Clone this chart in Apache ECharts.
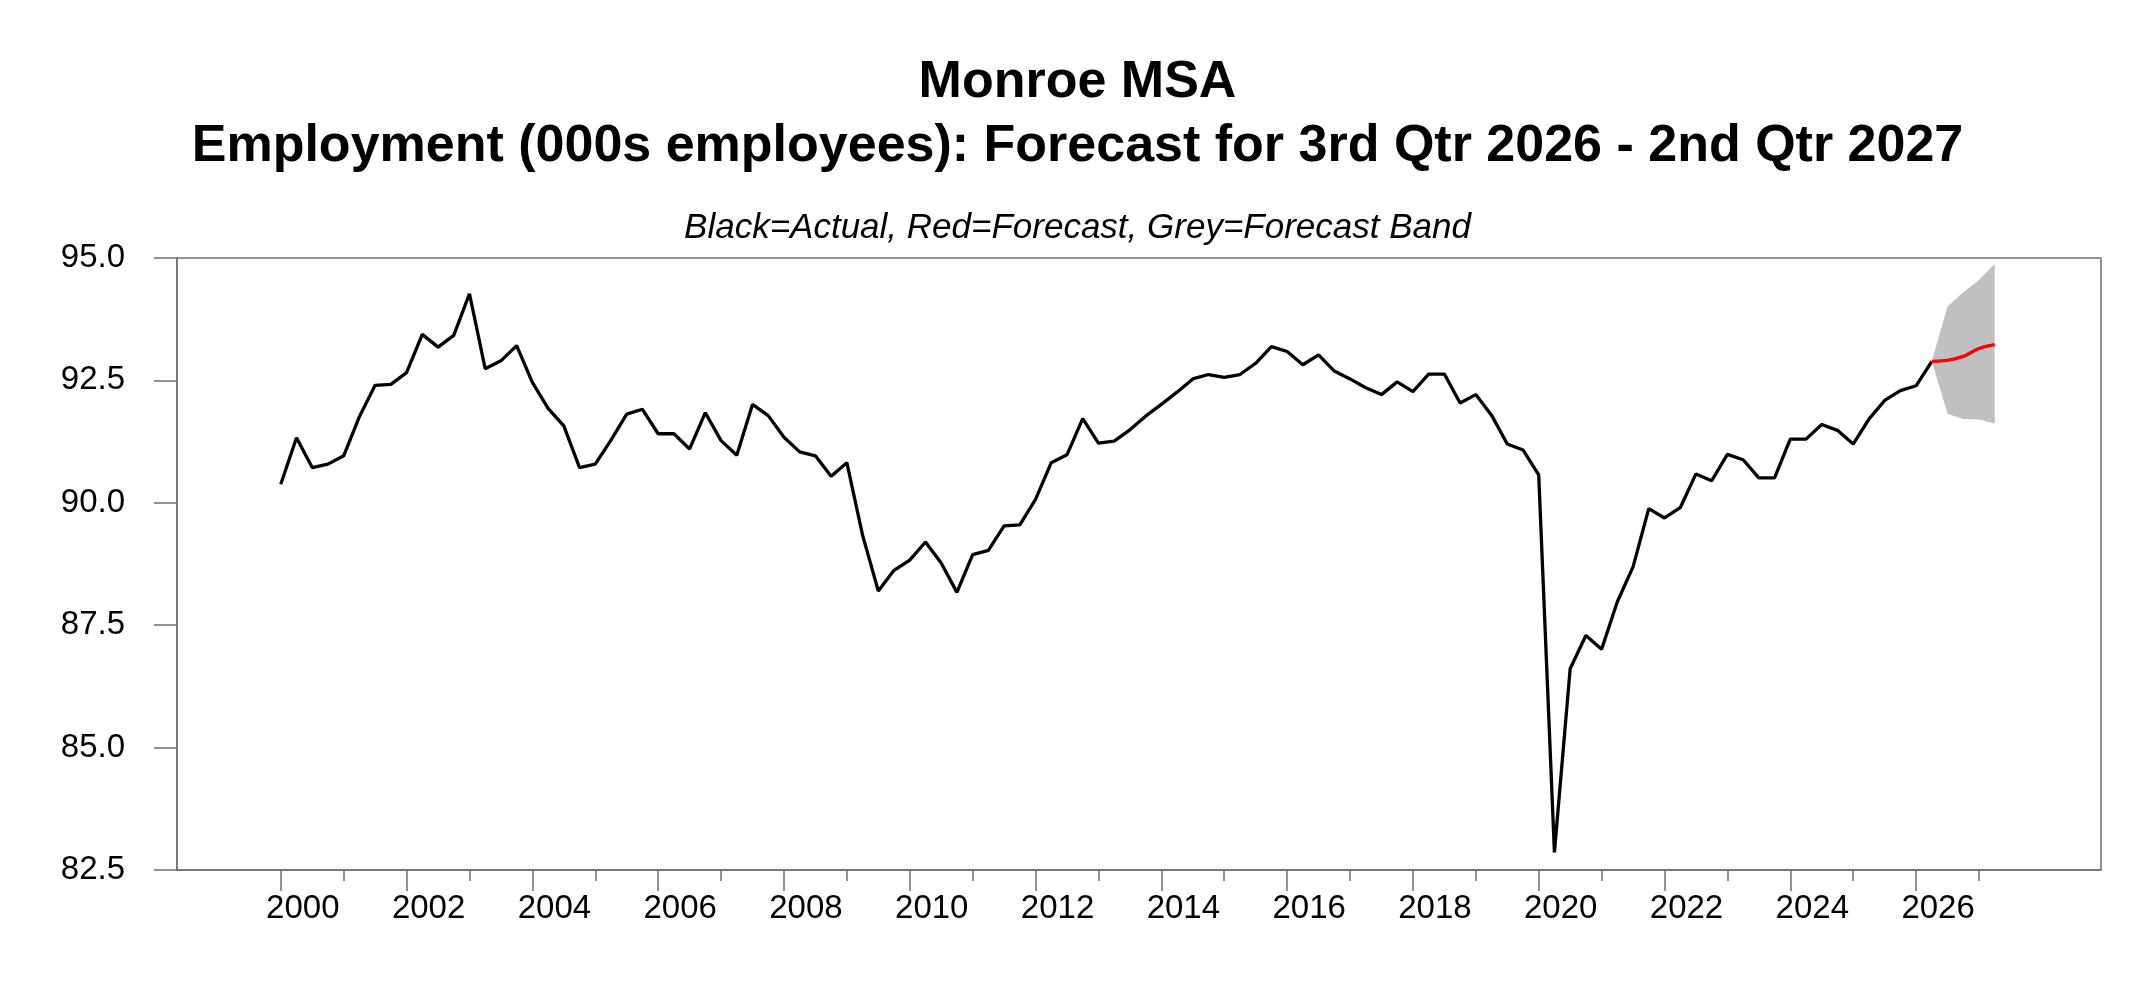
<!DOCTYPE html>
<html>
<head>
<meta charset="utf-8">
<script src="https://cdn.jsdelivr.net/npm/echarts@6/dist/echarts.min.js"></script>
<style>
html,body{margin:0;padding:0;background:#fff;}
#chart{width:2155px;height:981px;}
</style>
</head>
<body>
<div id="chart"></div>
<script>
// Quarterly actual employment, 2000Q1 .. 2026Q2 (000s)
const startYear = 2000;
const actual = [
  90.38, 91.33, 90.72, 90.79,
  90.96, 91.76, 92.40, 92.42,
  92.66, 93.44, 93.18, 93.42,
  94.27, 92.74, 92.90, 93.21,
  92.46, 91.93, 91.57, 90.72,
  90.79, 91.28, 91.81, 91.91,
  91.41, 91.41, 91.10, 91.84,
  91.27, 90.97, 92.01, 91.78,
  91.34, 91.04, 90.96, 90.54,
  90.82, 89.34, 88.20, 88.62,
  88.83, 89.20, 88.77, 88.17,
  88.94, 89.03, 89.53, 89.55,
  90.07, 90.82, 90.98, 91.72,
  91.22, 91.26, 91.49, 91.77,
  92.01, 92.26, 92.53, 92.62,
  92.56, 92.62, 92.85, 93.19,
  93.09, 92.82, 93.02, 92.69,
  92.53, 92.35, 92.21, 92.47,
  92.27, 92.63, 92.63, 92.04,
  92.21, 91.79, 91.20, 91.08,
  90.57, 82.86, 86.61, 87.29,
  87.01, 87.98, 88.69, 89.88,
  89.69, 89.90, 90.59, 90.45,
  90.99, 90.88, 90.51, 90.51,
  91.30, 91.30, 91.60, 91.48,
  91.20, 91.71, 92.09, 92.29,
  92.39, 92.89
];
// Forecast: 2026Q2 (last actual) .. 2027Q2
const forecastStartIndex = 105;
const forecast  = [92.89, 92.91, 92.99, 93.15, 93.23];
const bandUpper = [92.89, 94.01, 94.30, 94.55, 94.88];
const bandLower = [92.89, 91.82, 91.71, 91.70, 91.62];

const yTicks = [82.5, 85.0, 87.5, 90.0, 92.5, 95.0];
const majorYears = [2000,2002,2004,2006,2008,2010,2012,2014,2016,2018,2020,2022,2024,2026];
const minorYears = [2001,2003,2005,2007,2009,2011,2013,2015,2017,2019,2021,2023,2025,2027];

const titleLine1 = 'Monroe MSA';
const titleLine2 = 'Employment (000s employees): Forecast for 3rd Qtr 2026 - 2nd Qtr 2027';
const subtitleText = 'Black=Actual, Red=Forecast, Grey=Forecast Band';

const qx = i => startYear + i / 4;
const actualData = actual.map((v, i) => [qx(i), v]);
const fcData = forecast.map((v, i) => [qx(forecastStartIndex + i), v]);
const bandData = bandUpper.map((v, i) => [qx(forecastStartIndex + i), bandLower[i], v]);

const FONT = "'Liberation Sans', Arial, sans-serif";
const AXIS = '#707070';

const chart = echarts.init(document.getElementById('chart'), null, {renderer: 'canvas'});
chart.setOption({
  backgroundColor: '#ffffff',
  animation: false,
  title: [
    {
      text: titleLine1, left: 'center', top: 46,
      textStyle: {fontFamily: FONT, fontSize: 52, fontWeight: 'bold', color: '#000', lineHeight: 64}
    },
    {
      text: titleLine2, left: 'center', top: 110,
      textStyle: {fontFamily: FONT, fontSize: 52, fontWeight: 'bold', color: '#000', lineHeight: 64}
    },
    {
      text: subtitleText, left: 'center', top: 203,
      textStyle: {fontFamily: FONT, fontSize: 35, fontStyle: 'italic', fontWeight: 'normal', color: '#000', lineHeight: 40}
    }
  ],
  grid: {
    left: 177, right: 54, top: 258, bottom: 111,
    show: true, borderColor: AXIS, borderWidth: 1.5, backgroundColor: 'transparent'
  },
  xAxis: [
    {
      type: 'value', min: 1998.35, max: 2028.94,
      axisLine: {show: true, onZero: false, lineStyle: {color: AXIS, width: 1.5}},
      axisTick: {show: true, length: 21, customValues: majorYears, lineStyle: {color: AXIS, width: 1.5}},
      axisLabel: {
        show: true, customValues: majorYears.map(y => y + 0.35),
        formatter: v => String(Math.floor(v + 0.01)),
        fontFamily: FONT, fontSize: 33, color: '#000', margin: 22
      },
      splitLine: {show: false}
    },
    {
      type: 'value', min: 1998.35, max: 2028.94, position: 'bottom',
      axisLine: {show: false, onZero: false},
      axisTick: {show: true, length: 11, customValues: minorYears, lineStyle: {color: AXIS, width: 1.5}},
      axisLabel: {show: false},
      splitLine: {show: false}
    }
  ],
  yAxis: {
    type: 'value', min: 82.5, max: 95, interval: 2.5,
    axisLine: {show: true, lineStyle: {color: AXIS, width: 1.5}},
    axisTick: {show: true, length: 23, lineStyle: {color: AXIS, width: 1.5}},
    axisLabel: {
      customValues: yTicks,
      formatter: v => v.toFixed(1),
      fontFamily: FONT, fontSize: 33, color: '#000', margin: 52
    },
    splitLine: {show: false}
  },
  series: [
    {
      name: 'Forecast Band', type: 'custom', silent: true, z: 1,
      data: bandData,
      encode: {x: 0, y: [1, 2]},
      renderItem: function (params, api) {
        if (params.dataIndex !== 0) return null;
        const up = [], lo = [];
        for (let i = 0; i < bandData.length; i++) {
          up.push(api.coord([bandData[i][0], bandData[i][2]]));
          lo.push(api.coord([bandData[i][0], bandData[i][1]]));
        }
        const pts = up.concat(lo.reverse());
        return {
          type: 'polygon',
          shape: {points: pts},
          style: {fill: '#c0c0c0', stroke: 'none'}
        };
      }
    },
    {
      name: 'Actual', type: 'line', data: actualData,
      symbol: 'none', lineStyle: {color: '#000', width: 3.3}, z: 3
    },
    {
      name: 'Forecast', type: 'line', data: fcData, smooth: 0.3,
      symbol: 'none', lineStyle: {color: '#ff0000', width: 3.3}, z: 4
    }
  ]
});
</script>
</body>
</html>
